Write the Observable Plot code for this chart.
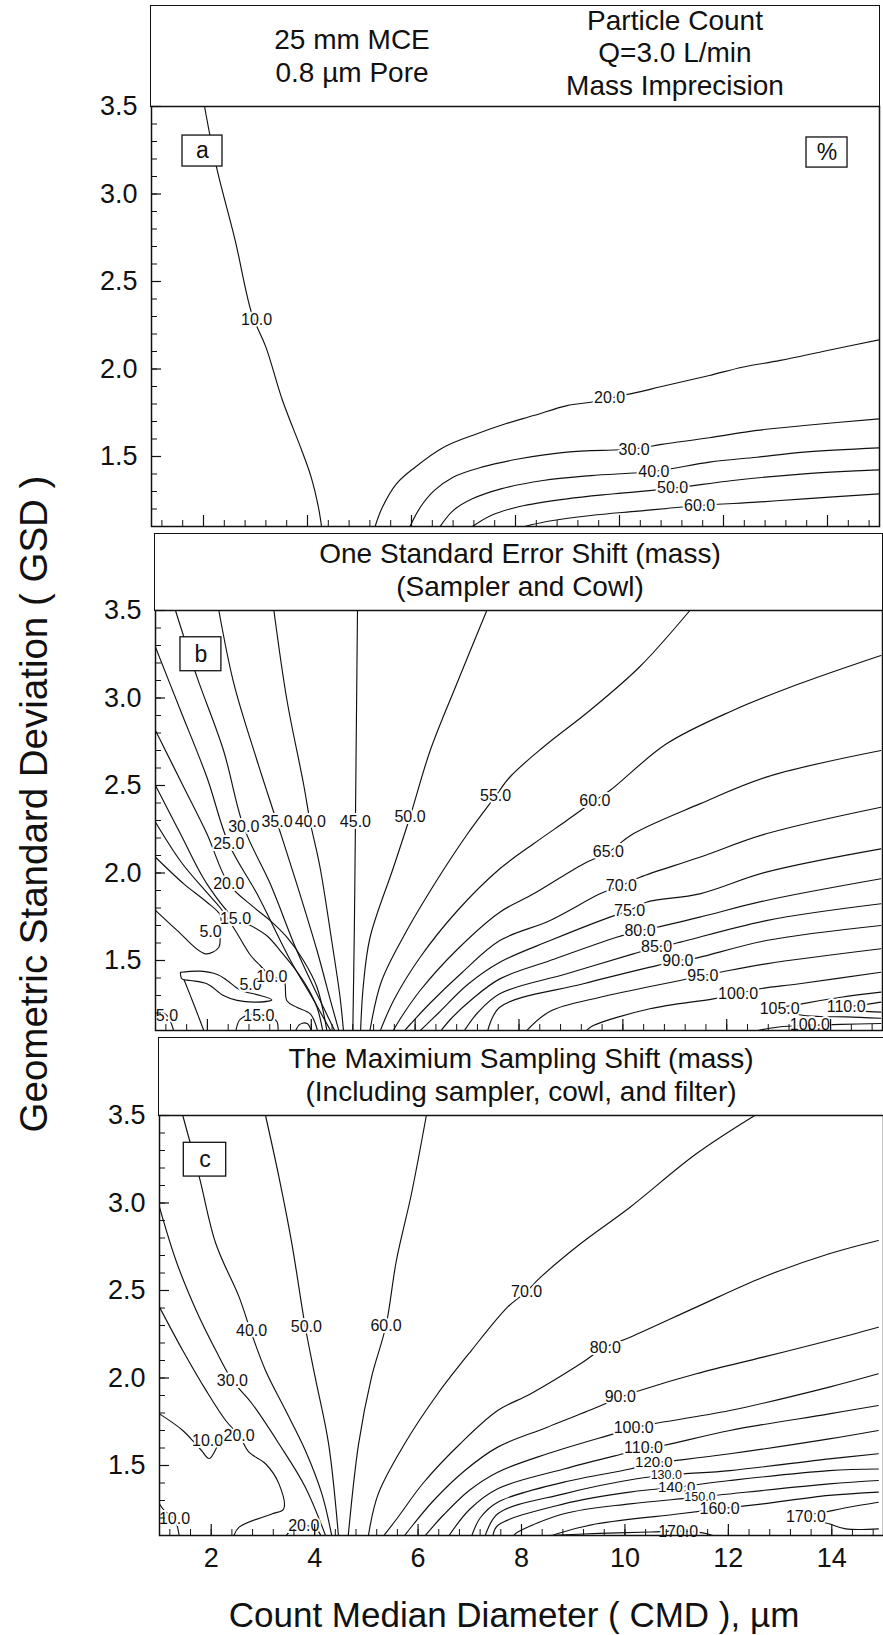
<!DOCTYPE html>
<html><head><meta charset="utf-8">
<script src="https://cdn.jsdelivr.net/npm/d3@7"></script>
<script src="https://cdn.jsdelivr.net/npm/@observablehq/plot@0.6"></script>
<style>
body{margin:0;background:#fff;overflow:hidden;}
#wrap{position:relative;width:883px;height:1635px;font-family:"Liberation Sans",Arial,sans-serif;color:#111;}
.hdr{position:absolute;border:1.5px solid #111;box-sizing:border-box;}
.hl{position:absolute;white-space:nowrap;transform:translate(-50%,-50%);font-size:28px;line-height:1;}
.ttl{position:absolute;white-space:nowrap;font-size:35px;line-height:1;transform:translate(-50%,-50%);}
</style></head><body><div id="wrap"></div>
<script>
// ---------- axes ----------
const xDomain = [1, 15];
const yDomain = [1.1, 3.5];
const yTickLabels = [1.5, 2.0, 2.5, 3.0, 3.5];
const xTickLabels = [2, 4, 6, 8, 10, 12, 14];
const yMinorTicks = d3.range(1.2, 3.45, 0.1);
const xMinorTicks = d3.range(1.2, 15, 0.4);

// ---------- panel a : Mass Imprecision ----------
const contoursA = [
  {level:10, pts:[[2.02,3.5],[2.25,3.153],[2.61,2.734],[2.93,2.315],[3.20,2.125],[3.52,1.82],[3.89,1.534],[4.07,1.382],[4.21,1.21],[4.27,1.1]]},
  {level:20, pts:[[5.30,1.1],[5.44,1.21],[5.71,1.344],[6.07,1.439],[6.62,1.553],[7.26,1.63],[7.81,1.687],[8.35,1.734],[8.99,1.791],[9.45,1.81],[9.81,1.833],[10.36,1.868],[10.81,1.90],[11.73,1.963],[12.36,2.01],[13.09,2.049],[14.0,2.106],[15.0,2.167]]},
  {level:30, pts:[[5.97,1.1],[6.17,1.21],[6.44,1.306],[6.80,1.382],[7.35,1.439],[8.08,1.487],[8.99,1.525],[10.31,1.544],[10.81,1.569],[11.73,1.607],[12.64,1.649],[13.55,1.677],[15.0,1.715]]},
  {level:40, pts:[[6.55,1.1],[6.80,1.191],[7.17,1.258],[7.72,1.315],[8.53,1.363],[9.45,1.391],[10.68,1.416],[11.73,1.468],[12.64,1.496],[13.55,1.525],[15.0,1.549]]},
  {level:50, pts:[[7.17,1.1],[7.53,1.163],[8.08,1.214],[8.99,1.258],[9.90,1.287],[11.04,1.319],[12.18,1.363],[13.55,1.401],[15.0,1.424]]},
  {level:60, pts:[[8.17,1.1],[8.63,1.13],[9.45,1.163],[10.36,1.188],[11.54,1.22],[12.64,1.239],[13.55,1.258],[15.0,1.287]]}
];
const labelsA = [
  {t:"10.0", x:3.02, y:2.28}, {t:"20.0", x:9.81, y:1.833}, {t:"30.0", x:10.28, y:1.54},
  {t:"40.0", x:10.66, y:1.415}, {t:"50.0", x:11.02, y:1.319}, {t:"60.0", x:11.54, y:1.22}
];
const boxesA = [{t:"a", x1:1.596, x2:2.365, y1:3.157, y2:3.334}, {t:"%", x1:13.596, x2:14.385, y1:3.151, y2:3.323}];

// ---------- panel b : One Standard Error Shift ----------
const contoursB = [
  {level:5, pts:[[1.0,2.09],[1.545,1.938],[1.99,1.833],[2.25,1.757],[2.24,1.66],[2.22,1.576],[1.96,1.538],[1.42,1.671],[1.0,1.786]]},
  {level:5, pts:[[1.48,1.433],[1.865,1.439],[2.19,1.42],[2.38,1.386],[2.63,1.332],[3.02,1.30],[3.24,1.275],[2.95,1.262],[2.57,1.272],[2.31,1.30],[1.99,1.367],[1.67,1.386],[1.51,1.395],[1.48,1.433]]},
  {level:10, pts:[[1.55,1.39],[1.75,1.24],[1.93,1.1]]},
  {level:5, pts:[[1.0,1.22],[1.22,1.186],[1.35,1.1]]},
  {level:15, pts:[[2.55,1.1],[2.62,1.16],[2.8,1.19],[2.99,1.19],[3.2,1.18],[3.34,1.15],[3.36,1.1]]},
  {level:15, pts:[[3.7,1.1],[3.78,1.135],[3.92,1.14],[4.0,1.1]]},
  {level:10, pts:[[1.0,2.29],[1.5,2.06],[2.0,1.885],[2.25,1.80],[2.54,1.67],[2.83,1.53],[3.02,1.47],[3.24,1.405],[3.47,1.386],[3.53,1.27],[3.72,1.233],[3.98,1.195],[4.12,1.1]]},
  {level:15, pts:[[1.0,2.50],[1.48,2.224],[1.99,1.938],[2.54,1.738],[2.83,1.70],[3.15,1.64],[3.40,1.557],[3.66,1.462],[3.92,1.348],[4.11,1.233],[4.22,1.1]]},
  {level:20, pts:[[1.0,2.814],[1.545,2.49],[1.99,2.224],[2.41,1.938],[2.89,1.805],[3.21,1.728],[3.53,1.633],[3.85,1.50],[4.11,1.347],[4.30,1.1]]},
  {level:25, pts:[[1.0,3.29],[1.48,2.93],[1.99,2.547],[2.41,2.167],[2.955,1.881],[3.60,1.50],[4.05,1.271],[4.37,1.1]]},
  {level:30, pts:[[1.385,3.5],[1.80,3.119],[2.31,2.70],[2.70,2.262],[3.21,1.938],[3.72,1.557],[4.17,1.271],[4.45,1.1]]},
  {level:35, pts:[[2.22,3.5],[2.51,3.081],[2.955,2.643],[3.34,2.29],[3.72,1.938],[4.11,1.557],[4.37,1.271],[4.53,1.1]]},
  {level:40, pts:[[3.28,3.5],[3.53,2.99],[3.85,2.51],[3.98,2.29],[4.17,2.03],[4.40,1.6],[4.55,1.3],[4.62,1.1]]},
  {level:45, pts:[[4.89,3.5],[4.87,2.9],[4.85,2.29],[4.83,1.7],[4.80,1.1]]},
  {level:50, pts:[[7.38,3.5],[6.80,3.08],[6.29,2.70],[5.90,2.32],[5.58,2.03],[5.13,1.63],[5.0,1.35],[4.95,1.1]]},
  {level:55, pts:[[11.29,3.5],[10.33,3.18],[9.37,2.93],[8.47,2.72],[7.83,2.55],[7.55,2.44],[7.0,2.22],[6.4,1.95],[5.8,1.65],[5.35,1.38],[5.13,1.1]]},
  {level:60, pts:[[14.97,3.243],[13.40,3.081],[12.12,2.929],[10.84,2.738],[9.75,2.471],[9.46,2.414],[8.92,2.30],[8.28,2.167],[7.63,2.024],[6.8,1.78],[6.1,1.52],[5.6,1.28],[5.33,1.1]]},
  {level:65, pts:[[14.97,2.70],[12.76,2.548],[11.48,2.395],[10.20,2.224],[9.72,2.119],[9.24,2.052],[8.28,1.881],[7.63,1.776],[6.8,1.56],[6.1,1.33],[5.72,1.17],[5.58,1.1]]},
  {level:70, pts:[[14.97,2.376],[12.76,2.224],[11.48,2.09],[10.33,1.976],[9.97,1.929],[9.56,1.881],[8.60,1.729],[7.63,1.614],[6.9,1.43],[6.3,1.26],[5.92,1.14],[5.80,1.1]]},
  {level:75, pts:[[14.97,2.138],[12.76,2.005],[11.48,1.881],[10.45,1.833],[10.13,1.786],[9.75,1.748],[8.60,1.614],[7.63,1.49],[7.0,1.36],[6.45,1.2],[6.1,1.1]]},
  {level:80, pts:[[14.97,1.967],[12.76,1.843],[11.48,1.748],[10.65,1.69],[10.33,1.671],[9.88,1.633],[8.60,1.50],[7.63,1.395],[7.1,1.28],[6.7,1.17],[6.5,1.1]]},
  {level:85, pts:[[14.97,1.824],[12.76,1.728],[10.97,1.595],[10.65,1.576],[10.20,1.538],[8.92,1.424],[7.63,1.31],[7.2,1.2],[6.95,1.1]]},
  {level:90, pts:[[14.97,1.70],[12.76,1.614],[11.35,1.51],[11.06,1.50],[10.65,1.471],[9.24,1.367],[7.63,1.233],[7.4,1.1]]},
  {level:95, pts:[[14.97,1.567],[12.76,1.481],[11.87,1.433],[11.54,1.414],[11.10,1.386],[9.56,1.29],[8.6,1.21],[8.15,1.1]]},
  {level:100, pts:[[14.97,1.433],[13.40,1.367],[12.63,1.338],[12.22,1.31],[11.74,1.281],[10.52,1.224],[9.43,1.128],[9.3,1.1]]},
  {level:105, pts:[[14.97,1.319],[14.2,1.29],[13.5,1.255],[13.02,1.224],[13.4,1.19],[13.8,1.18],[14.3,1.178],[14.97,1.17]]},
  {level:110, pts:[[14.97,1.262],[14.6,1.245],[14.30,1.233],[14.6,1.212],[14.97,1.205]]},
  {level:100, pts:[[12.6,1.1],[13.0,1.12],[13.6,1.13],[14.2,1.135],[14.97,1.14]]}
];
const labelsB = [
  {t:"5.0", x:2.83, y:1.36}, {t:"10.0", x:3.24, y:1.405}, {t:"5.0", x:2.06, y:1.662},
  {t:"5.0", x:1.22, y:1.186}, {t:"15.0", x:2.99, y:1.186}, {t:"15.0", x:2.54, y:1.738},
  {t:"20.0", x:2.41, y:1.938}, {t:"25.0", x:2.41, y:2.167}, {t:"30.0", x:2.70, y:2.262},
  {t:"35.0", x:3.34, y:2.29}, {t:"40.0", x:3.98, y:2.29}, {t:"45.0", x:4.85, y:2.29},
  {t:"50.0", x:5.90, y:2.32}, {t:"55.0", x:7.55, y:2.44}, {t:"60.0", x:9.46, y:2.414},
  {t:"65.0", x:9.72, y:2.119}, {t:"70.0", x:9.97, y:1.929}, {t:"75.0", x:10.13, y:1.786},
  {t:"80.0", x:10.33, y:1.671}, {t:"85.0", x:10.65, y:1.576}, {t:"90.0", x:11.06, y:1.50},
  {t:"95.0", x:11.54, y:1.414}, {t:"100.0", x:12.22, y:1.31}, {t:"105.0", x:13.02, y:1.224},
  {t:"110.0", x:14.30, y:1.233}, {t:"100.0", x:13.6, y:1.13}
];
const boxesB = [{t:"b", x1:1.481, x2:2.269, y1:3.153, y2:3.347}];

// ---------- panel c : Maximum Sampling Shift ----------
const contoursC = [
  {level:10, pts:[[1.0,1.795],[1.45,1.70],[1.8,1.59],[1.96,1.54],[2.1,1.60],[2.15,1.64]]},
  {level:10, pts:[[1.0,1.28],[1.1,1.24],[1.29,1.195],[1.38,1.1]]},
  {level:20, pts:[[1.0,2.405],[1.45,2.157],[1.90,1.929],[2.28,1.757],[2.54,1.671],[2.73,1.576],[3.05,1.51],[3.31,1.395],[3.40,1.252],[3.18,1.224],[2.54,1.148],[2.44,1.1]]},
  {level:20, pts:[[3.45,1.1],[3.6,1.145],[3.79,1.157],[4.02,1.14],[4.12,1.1]]},
  {level:30, pts:[[1.0,2.976],[1.32,2.67],[1.71,2.386],[2.09,2.157],[2.41,1.986],[2.79,1.853],[3.31,1.624],[3.82,1.376],[4.21,1.1]]},
  {level:40, pts:[[1.45,3.5],[1.77,3.148],[2.09,2.767],[2.54,2.462],[2.76,2.271],[3.05,2.043],[3.44,1.814],[3.82,1.586],[4.14,1.338],[4.33,1.1]]},
  {level:50, pts:[[3.05,3.5],[3.31,3.148],[3.56,2.767],[3.82,2.29],[4.01,2.005],[4.27,1.624],[4.46,1.1]]},
  {level:60, pts:[[6.16,3.5],[5.87,3.05],[5.58,2.67],[5.38,2.30],[5.10,2.005],[4.85,1.624],[4.65,1.1]]},
  {level:70, pts:[[12.51,3.5],[11.38,3.281],[10.10,2.976],[9.14,2.767],[8.37,2.576],[8.08,2.49],[7.73,2.405],[7.03,2.157],[6.38,1.91],[5.74,1.624],[5.23,1.338],[5.04,1.1]]},
  {level:80, pts:[[14.9,2.786],[13.95,2.71],[12.67,2.576],[11.38,2.405],[10.10,2.233],[9.59,2.172],[9.14,2.081],[8.18,1.91],[7.54,1.814],[6.8,1.62],[6.1,1.4],[5.6,1.2],[5.34,1.1]]},
  {level:90, pts:[[14.9,2.29],[13.95,2.214],[12.67,2.119],[11.38,2.024],[10.29,1.929],[9.91,1.89],[9.46,1.833],[8.50,1.719],[7.54,1.605],[6.9,1.47],[6.3,1.3],[5.9,1.16],[5.74,1.1]]},
  {level:100, pts:[[14.9,2.024],[13.95,1.948],[12.03,1.814],[10.55,1.738],[10.17,1.715],[9.78,1.681],[8.50,1.567],[7.54,1.462],[7.0,1.36],[6.5,1.22],[6.14,1.1]]},
  {level:110, pts:[[14.9,1.843],[13.95,1.795],[12.03,1.70],[10.74,1.614],[10.36,1.595],[9.97,1.567],[8.82,1.48],[7.54,1.367],[7.0,1.25],[6.6,1.1]]},
  {level:120, pts:[[14.9,1.70],[13.95,1.652],[12.03,1.567],[11.0,1.529],[10.58,1.515],[10.10,1.48],[8.82,1.405],[7.54,1.29],[7.2,1.2],[7.04,1.1]]},
  {level:130, pts:[[14.9,1.567],[13.95,1.538],[12.03,1.471],[11.13,1.452],[10.78,1.443],[10.23,1.424],[8.82,1.338],[7.54,1.224],[7.3,1.1]]},
  {level:140, pts:[[14.9,1.48],[13.95,1.471],[12.03,1.414],[11.0,1.376],[10.10,1.348],[8.82,1.281],[7.54,1.157],[7.45,1.1]]},
  {level:150, pts:[[14.9,1.414],[13.95,1.395],[11.42,1.319],[10.10,1.281],[8.82,1.224],[7.92,1.118],[7.85,1.1]]},
  {level:160, pts:[[14.9,1.348],[13.95,1.329],[12.67,1.281],[11.83,1.252],[11.06,1.224],[9.46,1.167],[8.69,1.11],[8.6,1.1]]},
  {level:170, pts:[[14.9,1.29],[14.3,1.26],[13.9,1.235],[13.5,1.21],[13.95,1.167],[14.27,1.138],[14.9,1.138]]},
  {level:170, pts:[[8.5,1.1],[9.5,1.112],[10.5,1.12],[11.03,1.125],[11.5,1.115],[11.7,1.1]]}
];
// labels; s = font size (the crowded 130/150 labels are mostly hidden in the original)
const labelsC = [
  {t:"10.0", x:1.29, y:1.195, s:16}, {t:"10.0", x:1.93, y:1.643, s:16}, {t:"20.0", x:2.54, y:1.671, s:16},
  {t:"20.0", x:3.79, y:1.157, s:16}, {t:"30.0", x:2.41, y:1.986, s:16}, {t:"40.0", x:2.78, y:2.271, s:16},
  {t:"50.0", x:3.84, y:2.29, s:16}, {t:"60.0", x:5.38, y:2.30, s:16}, {t:"70.0", x:8.1, y:2.49, s:16},
  {t:"80.0", x:9.62, y:2.172, s:16}, {t:"90.0", x:9.91, y:1.89, s:16}, {t:"100.0", x:10.17, y:1.715, s:16},
  {t:"110.0", x:10.36, y:1.598, s:16}, {t:"120.0", x:10.56, y:1.52, s:15}, {t:"130.0", x:10.8, y:1.446, s:12.5},
  {t:"140.0", x:11.0, y:1.376, s:15}, {t:"150.0", x:11.45, y:1.318, s:12.5}, {t:"160.0", x:11.83, y:1.252, s:16},
  {t:"170.0", x:13.5, y:1.208, s:16}, {t:"170.0", x:11.03, y:1.122, s:16}
];
const boxesC = [{t:"c", x1:1.47, x2:2.29, y1:3.151, y2:3.344}];

// ---------- headers & titles ----------
const headerA = [
  {t:"25 mm MCE", x:352, y:40}, {t:"0.8 µm Pore", x:352, y:73},
  {t:"Particle Count", x:675, y:21}, {t:"Q=3.0 L/min", x:675, y:53}, {t:"Mass Imprecision", x:675, y:86}
];
const headerB = [{t:"One Standard Error Shift (mass)", x:520, y:554}, {t:"(Sampler and Cowl)", x:520, y:587}];
const headerC = [{t:"The Maximium Sampling Shift (mass)", x:521, y:1059}, {t:"(Including sampler, cowl, and filter)", x:521, y:1092}];
const xTitle = "Count Median Diameter ( CMD ), µm";
const yTitle = "Geometric Standard Deviation ( GSD )";

const panels = [
  {contours:contoursA, labels:labelsA, boxes:boxesA, header:headerA, left:151, width:728, top:106, headerTop:5, showX:false},
  {contours:contoursB, labels:labelsB, boxes:boxesB, header:headerB, left:155, width:727, top:610, headerTop:533, showX:false},
  {contours:contoursC, labels:labelsC, boxes:boxesC, header:headerC, left:159, width:724, top:1115, headerTop:1037, showX:true}
];

const wrap = document.getElementById("wrap");
const H = 420, W = 883;
const INK = "#111";

for (const p of panels) {
  const mt = 20, mb = p.showX ? 60 : 4;
  const rows = p.contours.flatMap((c, i) => c.pts.map(([x, y]) => ({id: i, level: c.level, x, y})));
  const svg = Plot.plot({
    width: W, height: H + mt + mb,
    marginLeft: p.left, marginRight: W - p.left - p.width, marginTop: mt, marginBottom: mb,
    x: {domain: xDomain, axis: null},
    y: {domain: yDomain, axis: null},
    style: {background: "transparent", overflow: "visible", fontFamily: "Liberation Sans, Arial, sans-serif", color: INK},
    marks: [
      Plot.line(rows, {x: "x", y: "y", z: "id", stroke: INK, strokeWidth: 1.15, curve: "catmull-rom", clip: true}),
      Plot.text(p.labels, {x: "x", y: "y", text: "t", fontSize: d => d.s ?? 16, fill: INK, stroke: "white", strokeWidth: 4, paintOrder: "stroke"}),
      Plot.rect(p.boxes, {x1: "x1", x2: "x2", y1: "y1", y2: "y2", fill: "white", stroke: INK, strokeWidth: 1.3}),
      Plot.text(p.boxes, {x: d => (d.x1 + d.x2) / 2, y: d => (d.y1 + d.y2) / 2, text: "t", fontSize: 23, fill: INK}),
      Plot.ruleY(yMinorTicks, {y: d => d, insetRight: p.width - 6, stroke: INK, strokeWidth: 1}),
      Plot.ruleY(yTickLabels, {y: d => d, insetRight: p.width - 10, stroke: INK, strokeWidth: 1.2}),
      Plot.ruleX(xMinorTicks, {x: d => d, insetTop: H - 6, stroke: INK, strokeWidth: 1}),
      Plot.ruleX(xTickLabels, {x: d => d, insetTop: H - 11, stroke: INK, strokeWidth: 1.2}),
      Plot.text(yTickLabels, {y: d => d, frameAnchor: "left", dx: -14, textAnchor: "end", text: d => d.toFixed(1), fontSize: 27, fill: INK}),
      p.showX ? Plot.text(xTickLabels, {x: d => d, frameAnchor: "bottom", dy: 31, text: d => String(d), fontSize: 27, fill: INK}) : null,
      Plot.frame({stroke: INK, strokeWidth: 1.5})
    ]
  });
  svg.style.position = "absolute";
  svg.style.left = "0px";
  svg.style.top = (p.top - mt) + "px";
  svg.style.maxWidth = "none";
  wrap.appendChild(svg);

  const hdr = document.createElement("div");
  hdr.className = "hdr";
  hdr.style.left = (p.left - 0.75) + "px";
  hdr.style.top = p.headerTop + "px";
  hdr.style.width = (p.width + 1.5) + "px";
  hdr.style.height = (p.top - p.headerTop + 0.75) + "px";
  wrap.appendChild(hdr);
  for (const h of p.header) {
    const d = document.createElement("div");
    d.className = "hl";
    d.style.left = h.x + "px";
    d.style.top = h.y + "px";
    d.textContent = h.t;
    wrap.appendChild(d);
  }
}

const xt = document.createElement("div");
xt.className = "ttl"; xt.style.left = "514px"; xt.style.top = "1614px"; xt.textContent = xTitle;
wrap.appendChild(xt);
const yt = document.createElement("div");
yt.className = "ttl"; yt.style.left = "34px"; yt.style.top = "804px"; yt.style.fontSize = "38.5px";
yt.style.transform = "translate(-50%,-50%) rotate(-90deg)"; yt.textContent = yTitle;
wrap.appendChild(yt);
</script></body></html>
